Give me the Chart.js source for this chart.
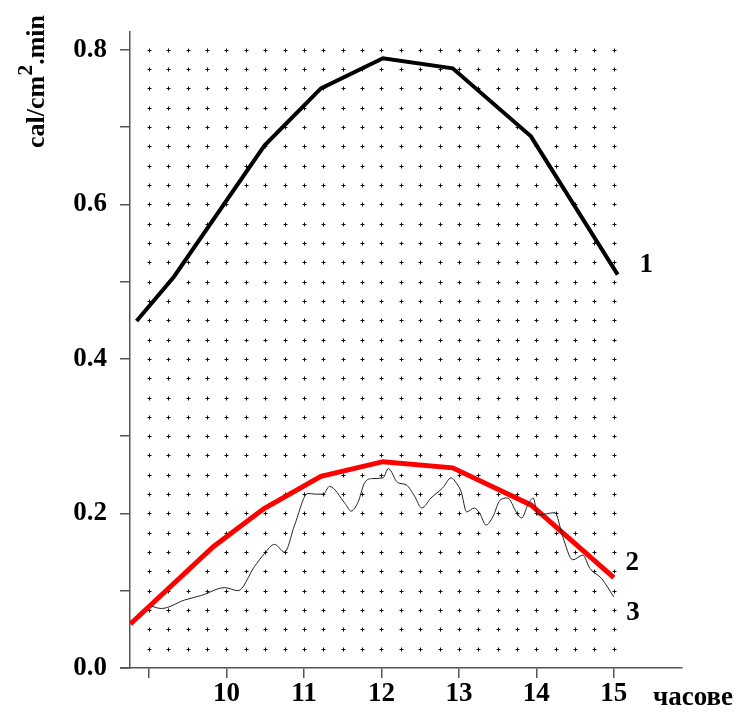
<!DOCTYPE html>
<html>
<head>
<meta charset="utf-8">
<script src="https://cdn.jsdelivr.net/npm/chart.js@4"></script>
<style>
html,body{margin:0;padding:0;background:#fff;}
#wrap{width:738px;height:713px;}
</style>
</head>
<body>
<div id="wrap"><canvas id="c" width="738" height="713"></canvas></div>
<script>
// curve 1
let hours1=[8.84,9.32,10.49,11.22,12.02,12.92,13.93,15.05];
let vals1=[0.449,0.506,0.676,0.750,0.789,0.776,0.688,0.509];
// curve 2 (red)
let hours2=[8.76,9.83,10.48,11.22,12.02,12.92,13.93,15.0];
let vals2=[0.057,0.157,0.206,0.248,0.267,0.259,0.211,0.117];
// curve 3 (thin measured line)
let hours3=[9.03,9.16,9.46,9.68,9.98,10.15,10.36,10.49,10.62,10.75,10.88,11.05,11.14,11.25,11.33,11.53,11.61,11.70,11.78,11.87,12.02,12.09,12.21,12.32,12.43,12.52,12.64,12.79,12.90,12.97,13.03,13.10,13.20,13.27,13.35,13.44,13.53,13.63,13.74,13.81,13.89,13.96,14.00,14.02,14.24,14.34,14.47,14.60,14.69,14.84,15.0];
let vals3=[0.080,0.077,0.088,0.094,0.104,0.100,0.131,0.148,0.160,0.150,0.185,0.226,0.225,0.225,0.235,0.213,0.203,0.215,0.239,0.245,0.246,0.258,0.240,0.237,0.222,0.207,0.220,0.233,0.246,0.239,0.228,0.202,0.207,0.200,0.185,0.196,0.217,0.220,0.202,0.194,0.211,0.220,0.204,0.198,0.201,0.170,0.140,0.146,0.129,0.116,0.092];

let xTicks=[9,10,11,12,13,14,15];
let curveLabels=[{t:"1",x:15.33,y:0.521},{t:"2",x:15.15,y:0.136},{t:"3",x:15.16,y:0.071}];
let xTitle="часове";

let serif="'Liberation Serif','Times New Roman',serif";
let axisCol="#555";

function pts(xs,ys){return xs.map((x,i)=>({x:x,y:ys[i]}));}

let extras={
 id:"extras",
 beforeDatasetsDraw(chart){
    let c=chart.ctx, xs=chart.scales.x, ys=chart.scales.y;
    c.save();
    c.strokeStyle="#111"; c.lineWidth=1;
    c.beginPath();
    for(let i=0;i<=24;i++){
        let px=Math.round(xs.getPixelForValue(9+i*0.25))+0.5;
        for(let j=1;j<=32;j++){
            let py=Math.round(ys.getPixelForValue(j*0.025))+0.5;
            c.moveTo(px-2,py); c.lineTo(px+2,py);
            c.moveTo(px,py-2); c.lineTo(px,py+2);
        }
    }
    c.stroke();
    c.restore();
 },
 afterDraw(chart){
    let c=chart.ctx, xs=chart.scales.x, ys=chart.scales.y, a=chart.chartArea;
    c.save();
    // x axis runs a little past the y axis
    c.strokeStyle=axisCol; c.lineWidth=1.5;
    c.beginPath(); c.moveTo(a.left-10,a.bottom); c.lineTo(a.left,a.bottom); c.stroke();
    c.fillStyle="#000";
    c.font="bold 27px "+serif;
    c.textBaseline="middle"; c.textAlign="left";
    curveLabels.forEach(l=>c.fillText(l.t,xs.getPixelForValue(l.x),ys.getPixelForValue(l.y)));
    c.fillText(xTitle,653,698);
    // y title, rotated, with superscript 2
    c.translate(44,148); c.rotate(-Math.PI/2);
    c.textBaseline="alphabetic";
    let p1="cal/cm", p2="2", p3=".min";
    c.font="bold 26px "+serif;
    c.fillText(p1,0,0);
    let w1=c.measureText(p1).width;
    c.font="bold 22px "+serif;
    c.fillText(p2,w1,-12);
    let w2=c.measureText(p2).width;
    c.font="bold 26px "+serif;
    c.fillText(p3,w1+w2,0);
    c.restore();
 }
};

new Chart(document.getElementById("c"),{
 type:"scatter",
 data:{datasets:[
    {data:pts(hours3,vals3),borderColor:"#222",borderWidth:1,showLine:true,pointRadius:0,cubicInterpolationMode:"monotone"},
    {data:pts(hours2,vals2),borderColor:"#ff0000",borderWidth:5,showLine:true,pointRadius:0,tension:0},
    {data:pts(hours1,vals1),borderColor:"#000",borderWidth:4,showLine:true,pointRadius:0,tension:0}
 ]},
 options:{
    responsive:false,animation:false,
    layout:{padding:{top:32,right:56,bottom:0,left:0}},
    plugins:{legend:{display:false},tooltip:{enabled:false}},
    scales:{
        x:{type:"linear",min:8.755,max:15.88,
           afterFit(s){s.height=45;},
           afterBuildTicks(s){s.ticks=xTicks.map(v=>({value:v}));},
           ticks:{callback:v=>v===9?"":String(v),font:{family:serif,size:27,weight:"bold"},color:"#000",padding:0,maxRotation:0,autoSkip:false},
           grid:{drawOnChartArea:false,drawTicks:true,tickLength:10,color:axisCol,lineWidth:1.5},
           border:{color:axisCol,width:1.5}},
        y:{type:"linear",min:0,max:0.823,
           afterFit(s){s.width=130;},
           ticks:{stepSize:0.1,includeBounds:false,
                  callback:v=>(Math.round(v*10)%2===0)?v.toFixed(1):"",
                  font:{family:serif,size:27,weight:"bold"},color:"#000",padding:13},
           grid:{drawOnChartArea:false,drawTicks:true,tickLength:10,color:axisCol,lineWidth:1.5},
           border:{color:axisCol,width:1.5}}
    }
 },
 plugins:[extras]
});
</script>
</body>
</html>
